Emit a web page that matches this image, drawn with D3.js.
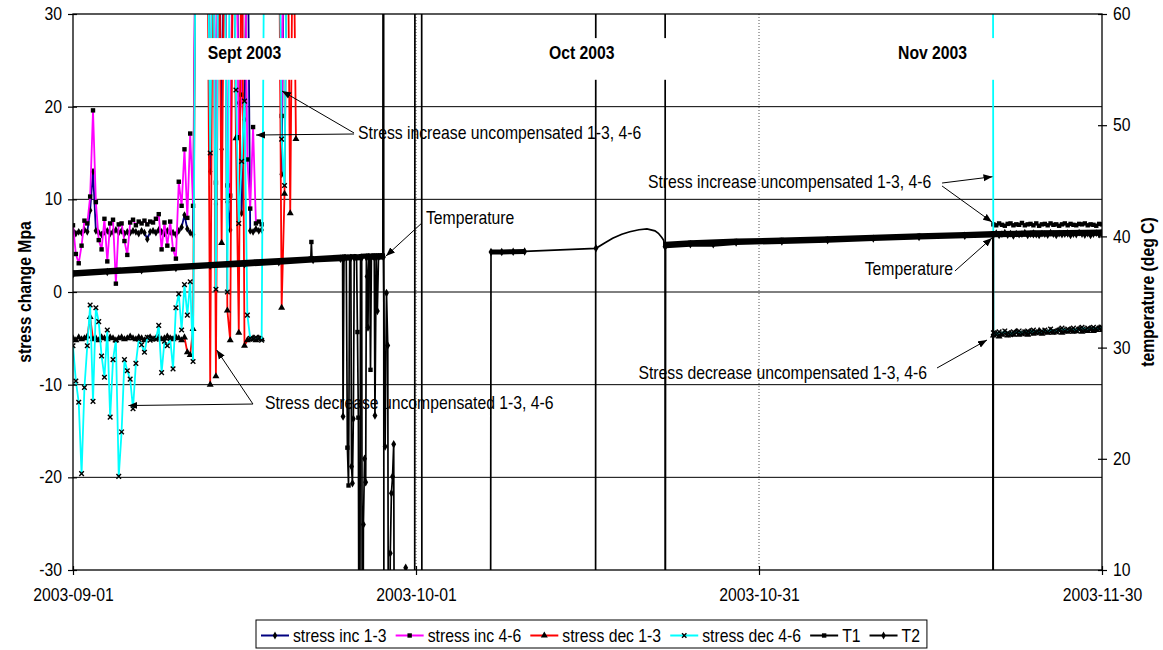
<!DOCTYPE html>
<html><head><meta charset="utf-8">
<script src="https://cdn.jsdelivr.net/npm/d3@7"></script>
<style>
html,body{margin:0;padding:0;background:#fff;}
svg{display:block;font-family:"Liberation Sans",Arial,Helvetica,sans-serif;}
</style></head><body>
<svg id="chart" width="1163" height="650"></svg>
<script>
// ---------------- DATA ----------------
const xTickLabels = ["2003-09-01", "2003-10-01", "2003-10-31", "2003-11-30"];
const leftTicks = [-30, -20, -10, 0, 10, 20, 30];
const rightTicks = [10, 20, 30, 40, 50, 60];
const seriesNames = ["stress inc 1-3", "stress inc 4-6", "stress dec 1-3", "stress dec 4-6", "T1", "T2"];

// stress readings: regular 6-hour samples (days after 2003-09-01)
const sampleStepDays = 0.25;
const sepFirstDay = 0;
const novFirstDay = 80.25;

const inc13Sep = [6.6,6.3,6.5,6.4,6.7,6.5,8.8,13.0,6.6,6.4, 6.2,6.5,6.6,6.3,6.5,6.7,6.4,6.6,6.3,6.5,
  6.4,6.6,6.5,6.3,6.6,6.4,5.7,6.5,6.6,6.4, 6.7,6.5,6.3,6.6,6.5,6.4,6.2,6.6,7.0,8.3,
  6.8,6.4,6.2,45,45,45,45,45,13.0,45, 9.5,45,15.4,45,9.7,6.7,45,45,20.4,8.5,
  18.6,45,6.6,6.5,6.8,6.6,6.7,null,null,null, null,null,45,12.7,45];
const inc46Sep = [7.2,4.1,3.1,5.0,7.7,7.4,10.3,19.6,9.7,5.6, 4.6,7.9,3.3,7.4,7.8,0.9,7.3,7.4,5.5,4.0,
  7.5,7.8,7.2,7.6,7.4,7.7,7.3,7.6,7.5,7.9, 8.4,4.6,7.5,5.0,7.6,4.6,3.6,11.9,9.3,15.4,
  8.0,17.1,9.3,45,45,45,45,45,45,45, 11.8,45,45,45,11.5,10.4,45,45,16.7,21.3,
  45,14.3,9.0,17.8,7.4,7.6,7.3,null,null,null, null,null,45,19.0,45];
const dec13Sep = [-5.0,-5.2,-4.9,-5.1,-5.0,-4.8,-2.7,-5.1,-5.0,-5.2, -4.9,-5.0,-5.1,-4.9,-5.0,-5.2,-5.0,-4.9,-5.1,-5.0,
  -4.8,-5.0,-5.1,-4.9,-5.0,-5.2,-5.0,-4.9,-5.1,-5.0, -4.9,-5.1,-5.0,-4.8,-5.0,-5.1,-4.9,-5.0,-5.2,-4.9,
  -6.5,-6.8,-4.0,45,45,45,45,45,-10.0,45, -9.1,45,5.3,45,-2.0,-5.2,45,16.6,-4.4,45,
  -5.8,-5.2,-5.1,-5.0,-5.2,-5.0,-5.1,null,null,null, null,null,45,-1.7,10.6,45,8.5,45,16.5];
const dec46Sep = [-5.8,-9.6,-11.9,-19.6,-10.3,-5.8,-1.4,-11.8,-1.7,-3.2, -6.9,-9.2,-4.1,-13.5,-7.3,-5.2,-19.9,-15.1,-7.3,-8.5,
  -9.4,-12.6,-7.7,-5.1,-5.7,-6.5,-4.9,-5.2,-5.0,-5.1, -3.6,-8.7,-5.3,-5.8,-5.0,-8.3,-1.7,-0.2,-4.1,0.8,
  -2.5,1.1,-7.5,45,45,45,45,45,15.0,45, 0.3,45,45,45,0.0,45,45,21.8,7.4,14.1,
  20.6,-2.5,-5.0,-5.1,-4.9,-5.0,-5.2,45,null,null, null,null,45,16.5,11.5,45];

const inc13Nov = [null, 6.2,6.35,6.1,6.25,6.4,6.15,6.3,6.05,6.3,6.2, 6.25,6.4,6.1,6.25,6.35,6.2,6.1,6.3,6.25,6.15,
  6.4,6.25,6.1,6.3,6.2,6.25,6.35,6.1,6.25,6.2, 6.4,6.25,6.15,6.3,6.1,6.25,6.35,6.2,6.3];
const inc46Nov = [null, 7.3,7.2,7.4,7.25,7.15,7.35,7.4,7.2,7.3,7.25, 7.45,7.2,7.3,7.35,7.2,7.4,7.15,7.3,7.35,7.2,
  7.4,7.25,7.3,7.15,7.3,7.4,7.2,7.35,7.25,7.2, 7.35,7.3,7.4,7.2,7.3,7.25,7.15,7.35,7.3];
const dec13Nov = [null, -4.7,-4.5,-4.8,-4.6,-4.4,-4.7,-4.5,-4.6,-4.3,-4.6, -4.5,-4.4,-4.6,-4.3,-4.5,-4.4,-4.2,-4.5,-4.3,-4.4,
  -4.2,-4.4,-4.3,-4.1,-4.4,-4.2,-4.3,-4.1,-4.3,-4.2, -4.0,-4.3,-4.1,-4.2,-4.0,-4.2,-4.1,-3.9,-4.1];
const dec46Nov = [300, -4.4,-4.6,-4.3,-4.5,-4.2,-4.4,-4.6,-4.3,-4.4,-4.2, -4.5,-4.3,-4.2,-4.4,-4.1,-4.3,-4.4,-4.2,-4.1,-4.3,
  -4.0,-4.2,-4.3,-4.1,-3.9,-4.2,-4.0,-4.1,-3.9,-4.2, -4.0,-3.8,-4.1,-3.9,-4.0,-3.8,-4.0,-3.9,-3.8];

// temperatures (deg C), irregular readings (days after 2003-09-01)
const t1Days = [0,4,8,12,16,20,20.8,20.85,20.9,23.9,24.0,24.1,24.2,24.8,24.88,24.96,25.05,25.15,25.95,26.02,26.1,
  27.1,27.15,27.2,29.88,29.92,30.48,30.52,45.7,45.74,51.76,51.8,54,58,62,66,70,74,78,80.5,84,87,90];
const t1Vals = [36.73,36.99,37.24,37.48,37.71,37.95,38.0,39.5,38.0,38.18,21.0,17.6,38.18,38.2,31.4,23.7,-20,38.22,38.25,28.0,38.25,
  38.28,120,-20,-20,120,120,-20,-20,120,120,39.3,39.42,39.58,39.68,39.78,39.92,40.05,40.18,40.25,40.32,40.36,40.4];
const t2Days = [0,3,6,9,12,15,18,21,23.4, 23.58,23.62,23.7, 24.3,24.36,24.44,24.52,24.6,
  25.25,25.32,25.4,25.5,25.6,25.66,25.72,25.8,25.86, 26.35,26.41,26.52,26.62,26.72,
  27.15,27.3,27.42,27.53,27.62,27.75,27.85,27.95,28.05,28.15, 29.1,29.2,
  36.5,36.56,37.5,38.5,39.5, 45.74,51.78,51.8,51.83, 54,56,58,62,66,70,74,78, 80.45,80.47,80.5, 84,87,90];
const t2Vals = [36.6,36.8,36.95,37.15,37.35,37.5,37.68,37.88,38.0, 38.02,23.8,38.03, 38.05,19.3,17.8,23.6,38.06,
  38.08,-20,14.1,20.0,17.9,38.1,36.4,31.8,38.1, 38.12,23.9,38.12,33.3,38.13,
  38.15,21.1,34.9,30.2,-20,11.5,16.9,18.4,21.3,-20, 10.2,-20,
  -20,38.6,38.6,38.62,38.65, 38.93,39.08,-20,39.15, 39.3,39.3,39.45,39.55,39.65,39.8,39.95,40.05, 40.12,-20,40.15, 40.2,40.25,40.28];
// smoothed T2 segment between 45.74 and 51.78
const t2CurveDays = [46.5,47.2,48.0,48.7,49.5,50.2,50.9,51.2,51.5,51.65];
const t2CurveVals = [39.4,39.83,40.2,40.42,40.6,40.67,40.5,40.28,39.9,39.67];
// periods of dense logging (drawn as a heavy trace)
const t1DenseRanges = [[0, 27.1], [51.8, 90]];
const t2DenseRanges = [[0, 28.2], [36.56, 39.5], [51.83, 90]];

// ---------------- STYLE / LAYOUT ----------------
const W = 1163, H = 650;
const P = {left: 73, right: 1102, top: 14, bottom: 570};
const colors = ["#000080", "#ff00ff", "#ff0000", "#00ffff", "#000000", "#000000"];
const markers = ["diamond", "square", "triangle", "x", "square", "diamond"];
const FONT = 17.5;       // glyph height of the reference
const SX = 0.9;          // reference text is horizontally condensed

const parseDate = d3.utcParse("%Y-%m-%d");
const t0 = parseDate(xTickLabels[0]);
const toDate = d => new Date(t0.getTime() + d * 864e5);

const x = d3.scaleUtc().domain([t0, parseDate(xTickLabels[xTickLabels.length - 1])]).range([P.left, P.right]);
const yL = d3.scaleLinear().domain([-30, 30]).range([P.bottom, P.top]);
const yR = d3.scaleLinear().domain([10, 60]).range([P.bottom, P.top]);

const svg = d3.select("#chart");
const defs = svg.append("defs");
defs.append("clipPath").attr("id", "plotclip").append("rect")
  .attr("x", P.left).attr("y", P.top).attr("width", P.right - P.left).attr("height", P.bottom - P.top);
defs.append("marker").attr("id", "arrow").attr("markerUnits", "userSpaceOnUse")
  .attr("markerWidth", 10).attr("markerHeight", 8).attr("refX", 9).attr("refY", 4).attr("orient", "auto")
  .append("path").attr("d", "M0,0.5 L9,4 L0,7.5 Z").attr("fill", "#000");

// gridlines
svg.append("g").selectAll("line").data(leftTicks.filter(t => t > -30 && t < 30)).join("line")
  .attr("x1", P.left).attr("x2", P.right).attr("y1", d => yL(d)).attr("y2", d => yL(d))
  .attr("stroke", "#000").attr("stroke-width", 1);
svg.append("g").selectAll("line").data(xTickLabels.slice(1, -1)).join("line")
  .attr("x1", d => x(parseDate(d))).attr("x2", d => x(parseDate(d)))
  .attr("y1", P.top).attr("y2", P.bottom)
  .attr("stroke", "#555").attr("stroke-width", 1).attr("stroke-dasharray", "1,2");

function symbolPath(type, s) {
  if (type === "square") return d3.symbol(d3.symbolSquare, s * s)();
  if (type === "diamond") return d3.symbol(d3.symbolDiamond, s * s * 0.9)();
  if (type === "triangle") return d3.symbol(d3.symbolTriangle, s * s * 1.1)();
  const h = s / 2;
  return `M${-h},${-h}L${h},${h}M${-h},${h}L${h},${-h}`;
}
function drawMarkers(sel, pts, type, s, yScale) {
  sel.selectAll(null).data(pts.filter(p => p.v != null)).join("path")
    .attr("transform", p => `translate(${x(toDate(p.d))},${yScale(p.v)})`)
    .attr("d", symbolPath(type, s))
    .attr("fill", type === "x" ? "none" : "#000")
    .attr("stroke", type === "x" ? "#000" : "none")
    .attr("stroke-width", 1.4);
}

const plot = svg.append("g").attr("clip-path", "url(#plotclip)");

// stress series
const stressSep = [inc13Sep, inc46Sep, dec13Sep, dec46Sep];
const stressNov = [inc13Nov, inc46Nov, dec13Nov, dec46Nov];
const lineL = d3.line().defined(p => p.v != null).x(p => x(toDate(p.d))).y(p => yL(p.v));
stressSep.forEach((sep, k) => {
  const pts = sep.map((v, i) => ({d: sepFirstDay + i * sampleStepDays, v}))
    .concat([{d: 50, v: null}])
    .concat(stressNov[k].map((v, i) => ({d: novFirstDay + i * sampleStepDays, v})));
  const gs = plot.append("g");
  gs.append("path").attr("d", lineL(pts)).attr("fill", "none")
    .attr("stroke", colors[k]).attr("stroke-width", 1.8).attr("stroke-linejoin", "round");
  drawMarkers(gs, pts, markers[k], k === 3 ? 4.6 : 4.4, yL);
});

// temperature series
const lineR = d3.line().x(p => x(toDate(p.d))).y(p => yR(p.v));
function denseRuns(pts, ranges) {
  const runs = []; let cur = null;
  for (let i = 0; i < pts.length - 1; i++) {
    const a = pts[i], b = pts[i + 1];
    const ok = ranges.some(r => a.d >= r[0] && b.d <= r[1]) && Math.abs(a.v - b.v) < 1;
    if (ok) { if (!cur) { cur = [a]; runs.push(cur); } cur.push(b); } else cur = null;
  }
  return runs;
}
const t1Pts = t1Days.map((d, i) => ({d, v: t1Vals[i]}));
const t2Pts = t2Days.map((d, i) => ({d, v: t2Vals[i]}));
const t2Line = t2Pts.concat(t2CurveDays.map((d, i) => ({d, v: t2CurveVals[i]}))).sort((a, b) => a.d - b.d);
[[t1Pts, t1Pts, t1DenseRanges, 4], [t2Line, t2Pts, t2DenseRanges, 5]].forEach(([lp, mp, ranges, k]) => {
  const gt = plot.append("g");
  gt.append("path").attr("d", lineR(lp)).attr("fill", "none").attr("stroke", "#000").attr("stroke-width", 1.7);
  denseRuns(lp, ranges).forEach(run => {
    gt.append("path").attr("d", lineR(run)).attr("fill", "none").attr("stroke", "#000")
      .attr("stroke-width", 5).attr("stroke-linejoin", "round");
  });
  drawMarkers(gt, mp, markers[k], k === 4 ? 4.4 : 4.8, yR);
});

// frame and axes
svg.append("rect").attr("x", P.left).attr("y", P.top).attr("width", P.right - P.left).attr("height", P.bottom - P.top)
  .attr("fill", "none").attr("stroke", "#000").attr("stroke-width", 1.3);
const numFmt = d => String(d);
const axL = svg.append("g").attr("transform", `translate(${P.left + 4},0)`)
  .call(d3.axisLeft(yL).tickValues(leftTicks).tickSize(9).tickPadding(6).tickFormat(numFmt));
const axR = svg.append("g").attr("transform", `translate(${P.right - 4},0)`)
  .call(d3.axisRight(yR).tickValues(rightTicks).tickSize(9).tickPadding(6).tickFormat(numFmt));
const axB = svg.append("g").attr("transform", `translate(0,${P.bottom - 4})`)
  .call(d3.axisBottom(x).tickValues(xTickLabels.map(parseDate)).tickSize(9).tickPadding(14)
    .tickFormat(d3.utcFormat("%Y-%m-%d")));
[axL, axR, axB].forEach(a => {
  a.select(".domain").remove();
  a.selectAll(".tick line").attr("stroke", "#000").attr("stroke-width", 1.2);
  a.selectAll("text").attr("font-size", FONT).attr("fill", "#000").attr("font-family", null);
});

// axis titles
svg.append("text").attr("transform", `translate(25,${(P.top + P.bottom) / 2}) rotate(-90)`)
  .attr("text-anchor", "middle").attr("dy", "0.35em").attr("font-weight", "bold").attr("font-size", FONT)
  .text("stress change Mpa");
svg.append("text").attr("transform", `translate(1148,${(P.top + P.bottom) / 2}) rotate(-90)`)
  .attr("text-anchor", "middle").attr("dy", "0.35em").attr("font-weight", "bold").attr("font-size", FONT)
  .text("temperature (deg C)");

// month boxes
const monthLabels = ["Sept 2003", "Oct 2003", "Nov 2003"];
const monthLabelDays = [11.78, 41.63, 72.16];
monthLabels.forEach((t, i) => {
  const tx = x(toDate(monthLabelDays[i]));
  svg.append("rect").attr("x", tx - 8).attr("y", yL(27.4)).attr("width", 130).attr("height", yL(22.9) - yL(27.4))
    .attr("fill", "#fff");
  svg.append("text").attr("x", tx).attr("y", yL(25.1)).attr("font-weight", "bold").attr("font-size", FONT).text(t);
});

// annotations (positions in day / left-axis units)
const annotations = [
  {text: "Stress increase uncompensated 1-3, 4-6", at: [24.93, 17.16], anchor: "start",
   arrows: [[[24.58, 17.16], [18.28, 21.69]], [[24.58, 17.05], [16.01, 16.94]]]},
  {text: "Temperature", at: [30.87, 7.99], anchor: "start", arrows: [[[30.52, 7.45], [27.38, 3.89]]]},
  {text: "Stress decrease uncompensated 1-3, 4-6", at: [16.79, -11.98], anchor: "start",
   arrows: [[[15.74, -12.09], [4.85, -12.25]], [[15.74, -12.09], [12.57, -6.26]]]},
  {text: "Stress increase uncompensated 1-3, 4-6", at: [50.29, 11.87], anchor: "start",
   arrows: [[[76.01, 11.76], [80.42, 12.44]], [[76.01, 11.44], [80.38, 7.55]]]},
  {text: "Temperature", at: [76.97, 2.48], anchor: "end", arrows: [[[77.14, 2.27], [80.38, 5.83]]]},
  {text: "Stress decrease uncompensated 1-3, 4-6", at: [74.69, -8.74], anchor: "end",
   arrows: [[[75.57, -8.2], [79.94, -5.18]]]}
];
const ann = svg.append("g");
annotations.forEach(a => {
  ann.append("text").attr("x", x(toDate(a.at[0]))).attr("y", yL(a.at[1])).attr("dy", "0.35em")
    .attr("text-anchor", a.anchor).attr("font-size", FONT).attr("fill", "#000").text(a.text);
  a.arrows.forEach(([p, q]) => {
    ann.append("line").attr("x1", x(toDate(p[0]))).attr("y1", yL(p[1]))
      .attr("x2", x(toDate(q[0]))).attr("y2", yL(q[1]))
      .attr("stroke", "#000").attr("stroke-width", 1).attr("marker-end", "url(#arrow)");
  });
});

// legend
const lg = svg.append("g");
const legY = 635.5;
let cx = 261;
seriesNames.forEach((name, k) => {
  lg.append("line").attr("x1", cx).attr("x2", cx + 28).attr("y1", legY).attr("y2", legY)
    .attr("stroke", colors[k]).attr("stroke-width", 2);
  lg.append("path").attr("transform", `translate(${cx + 14},${legY})`)
    .attr("d", symbolPath(markers[k], 4.4))
    .attr("fill", markers[k] === "x" ? "none" : "#000").attr("stroke", markers[k] === "x" ? "#000" : "none")
    .attr("stroke-width", 1.4);
  const t = lg.append("text").attr("x", cx + 32).attr("y", legY).attr("dy", "0.35em")
    .attr("font-size", FONT).text(name);
  cx = cx + 32 + t.node().getComputedTextLength() * SX + 9;
});
lg.insert("rect", ":first-child").attr("x", 256).attr("y", 620).attr("width", cx - 2 - 256).attr("height", 28)
  .attr("fill", "#fff").attr("stroke", "#000").attr("stroke-width", 1);

// condense all text horizontally around its anchor point
svg.selectAll("text").each(function () {
  const t = d3.select(this);
  const xx = +t.attr("x") || 0, yy = +t.attr("y") || 0;
  const tr = t.attr("transform") || "";
  t.attr("x", 0).attr("y", 0).attr("transform", `${tr} translate(${xx},${yy}) scale(${SX},1)`);
});
</script></body></html>
